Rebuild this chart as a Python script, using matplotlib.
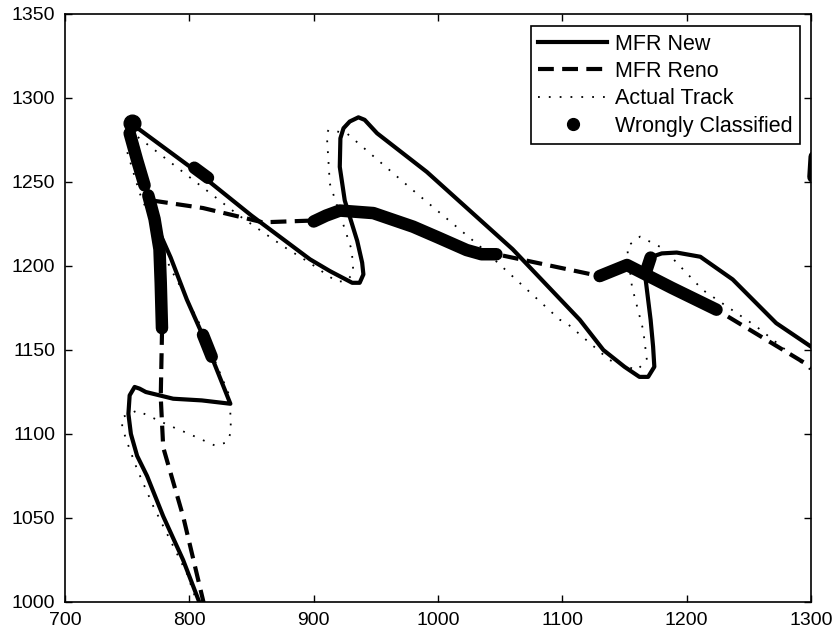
import numpy as np
import matplotlib.pyplot as plt
from matplotlib.lines import Line2D

plt.rcParams['font.family'] = ['Liberation Sans', 'DejaVu Sans']

# MFR New track (x, y)
new_x = [809, 795, 779, 766, 758, 753, 751, 752, 756, 760, 765, 787, 810, 833,
         819, 810, 798, 785, 776, 768, 760, 753,
         808, 850, 897, 913, 931, 937, 940, 939, 935, 925, 921, 921.5, 924, 929, 936, 941, 946, 951,
         991, 1060, 1114, 1133, 1150, 1162, 1169, 1174, 1173, 1171, 1167, 1167, 1170, 1180, 1192, 1211,
         1237, 1272, 1300, 1310]
new_y = [998, 1025, 1051, 1075, 1087, 1100, 1112, 1123, 1128, 1127, 1125, 1121, 1120, 1118,
         1144, 1160, 1180, 1205, 1220, 1240, 1265, 1285,
         1255, 1230, 1204, 1197, 1190, 1190, 1195, 1202, 1215, 1239, 1259, 1276, 1282, 1286, 1288.5, 1287, 1283, 1279,
         1256, 1210, 1168, 1150, 1140, 1134, 1134, 1140, 1152, 1168, 1192, 1200, 1205, 1207.5, 1208, 1205.5,
         1192, 1166, 1152, 1147]

# MFR Reno track
reno_x = [812, 795, 779, 777, 778, 777, 776, 772, 770,
          811, 859, 897, 921, 948, 980, 1023, 1047,
          1098, 1130, 1152, 1188, 1224, 1300, 1310]
reno_y = [998, 1051, 1092, 1122, 1160, 1190, 1210, 1228, 1239,
          1234.5, 1226, 1227, 1233, 1231.5, 1223, 1209.5, 1207,
          1199, 1194, 1200.6, 1187, 1174, 1140, 1135]

# Actual track
act_x = [807, 798, 771, 758, 750, 746, 746, 758, 784, 800, 821, 830, 833.5, 833, 832.7,
         822, 810, 797, 784.5, 772, 760, 750, 752,
         760, 800, 840, 876, 897, 918.5, 926, 932, 930.6, 913, 910.5, 912, 926.6,
         980, 1034, 1098, 1103.5, 1138, 1160, 1168, 1165, 1156, 1152, 1162.5, 1181,
         1213, 1256, 1300, 1310]
act_y = [998, 1017, 1057, 1079, 1095, 1104, 1110, 1114, 1105, 1100, 1093, 1095, 1101, 1112, 1122,
         1141, 1163, 1182, 1199, 1222, 1243.5, 1268, 1280,
         1276, 1253, 1230, 1211.5, 1201.8, 1190.7, 1191, 1195.6, 1209.5, 1249, 1279, 1281, 1279,
         1245, 1211.5, 1168, 1166, 1144, 1138, 1144, 1162, 1187.7, 1211.5, 1217.5, 1210.5,
         1185.7, 1164, 1138, 1133]

# Wrongly classified stretches
wrong_segments = [
    ([752, 758, 764], [1279, 1263, 1248]),
    ([767, 772, 776, 777, 778], [1242, 1228, 1210, 1190, 1163]),
    ([804, 815], [1258.5, 1252.5]),
    ([811, 818], [1159, 1146]),
    ([900, 910, 921, 948, 980, 1000, 1023, 1035, 1047],
     [1226.5, 1230, 1233, 1231.5, 1223.4, 1217, 1209.5, 1207, 1207]),
    ([1130, 1152, 1188, 1224], [1194, 1200.6, 1187, 1174]),
    ([1167, 1171], [1196, 1205]),
    ([1303, 1302], [1265, 1253]),
]
wrong_dot_x = [753.5]
wrong_dot_y = [1285]

fig = plt.figure(figsize=(8.39, 6.36), dpi=100)
ax = fig.add_axes([65 / 839, 34 / 636, 746 / 839, 588 / 636])

ax.plot(new_x, new_y, color='black', lw=3, solid_joinstyle='round')
ax.plot(reno_x, reno_y, color='black', lw=3, dashes=(3.8, 2))
ax.plot(act_x, act_y, color='black', lw=1.3, linestyle=(0, (1, 5)))
for sx, sy in wrong_segments:
    ax.plot(sx, sy, color='black', lw=9, solid_capstyle='round')
ax.plot(wrong_dot_x, wrong_dot_y, 'o', color='black', markersize=12)

ax.set_xlim(700, 1300)
ax.set_ylim(1000, 1350)
ax.set_xticks(np.arange(700, 1301, 100))
ax.set_yticks(np.arange(1000, 1351, 50))
ax.tick_params(direction='in', length=5, width=1, labelsize=14, top=True, right=True, pad=7)
for s in ax.spines.values():
    s.set_linewidth(1.2)

handles = [
    Line2D([], [], color='black', lw=3),
    Line2D([], [], color='black', lw=3, dashes=(3.8, 2)),
    Line2D([], [], color='black', lw=1.3, linestyle=(0, (1, 5))),
    Line2D([], [], color='black', lw=0, marker='o', markersize=8.5),
]
labels = ['MFR New', 'MFR Reno', 'Actual Track', 'Wrongly Classified']
leg = ax.legend(handles, labels, loc='upper right', bbox_to_anchor=(800 / 839, 1 - 26 / 636),
                bbox_transform=fig.transFigure, borderaxespad=0, fontsize=15.5,
                handlelength=3.2, handletextpad=0.35, labelspacing=0.3, borderpad=0.35,
                fancybox=False, framealpha=1)
leg.get_frame().set_edgecolor('black')
leg.get_frame().set_linewidth(1.2)

fig.savefig('out.png', dpi=100)
